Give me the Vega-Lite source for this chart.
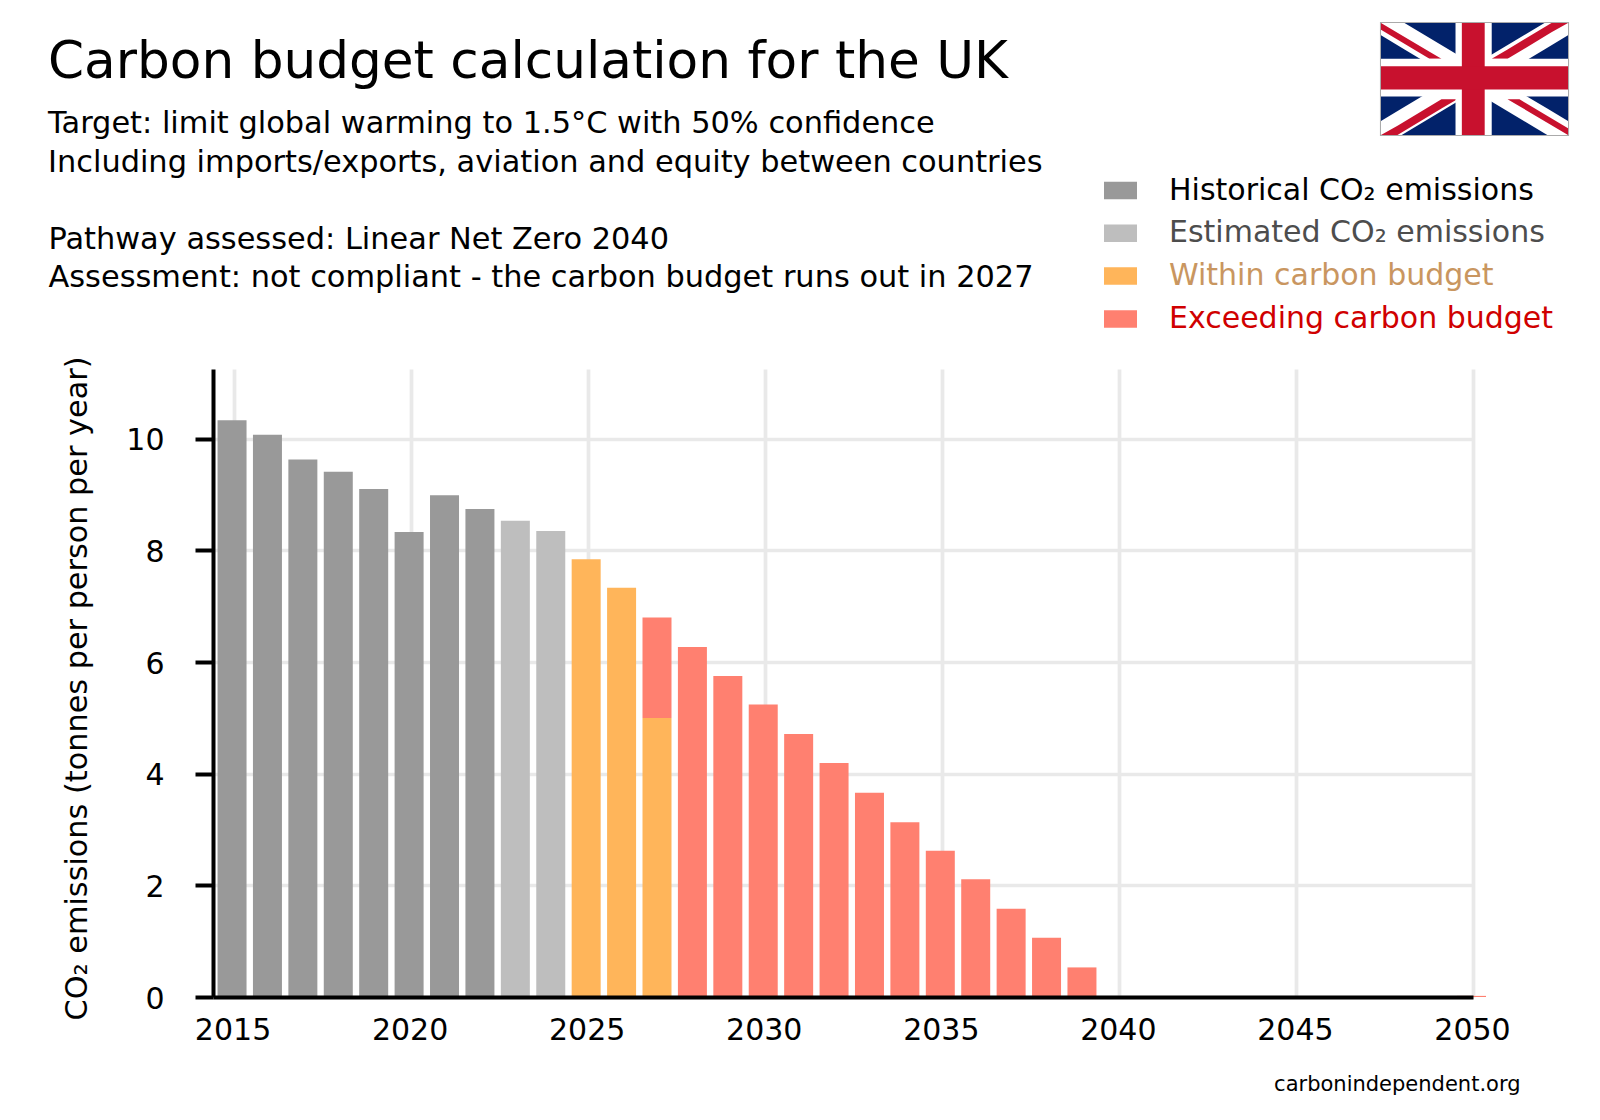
{
  "$schema": "https://vega.github.io/schema/vega-lite/v6.json",
  "autosize": {"type": "none"},
  "padding": {"left": 213, "top": 369, "right": 127, "bottom": 123},
  "width": 1260,
  "height": 628,
  "background": "white",
  "config": {"view": {"stroke": null}, "font": "DejaVu Sans"},
  "title": {
    "text": "Carbon budget calculation for the UK",
    "subtitle": [
      "Target: limit global warming to 1.5°C with 50% confidence",
      "Including imports/exports, aviation and equity between countries"
    ],
    "anchor": "start",
    "frame": "group",
    "dx": -165,
    "offset": -156.5,
    "font": "DejaVu Sans",
    "fontSize": 51.7,
    "fontWeight": "normal",
    "color": "black",
    "subtitleFont": "DejaVu Sans",
    "subtitleFontSize": 30.4,
    "subtitleColor": "black",
    "subtitleLineHeight": 38.6,
    "subtitlePadding": 21
  },
  "datasets": {
    "emissions": [
      {"year": 2015, "category": "Historical CO₂ emissions", "co2": 10.33},
      {"year": 2016, "category": "Historical CO₂ emissions", "co2": 10.07},
      {"year": 2017, "category": "Historical CO₂ emissions", "co2": 9.63},
      {"year": 2018, "category": "Historical CO₂ emissions", "co2": 9.41},
      {"year": 2019, "category": "Historical CO₂ emissions", "co2": 9.1},
      {"year": 2020, "category": "Historical CO₂ emissions", "co2": 8.33},
      {"year": 2021, "category": "Historical CO₂ emissions", "co2": 8.99},
      {"year": 2022, "category": "Historical CO₂ emissions", "co2": 8.74},
      {"year": 2023, "category": "Estimated CO₂ emissions", "co2": 8.53},
      {"year": 2024, "category": "Estimated CO₂ emissions", "co2": 8.35},
      {"year": 2025, "category": "Within carbon budget", "co2": 7.84},
      {"year": 2026, "category": "Within carbon budget", "co2": 7.33},
      {"year": 2027, "category": "Within carbon budget", "co2": 5.0},
      {"year": 2027, "category": "Exceeding carbon budget", "co2": 1.8},
      {"year": 2028, "category": "Exceeding carbon budget", "co2": 6.27},
      {"year": 2029, "category": "Exceeding carbon budget", "co2": 5.75},
      {"year": 2030, "category": "Exceeding carbon budget", "co2": 5.24},
      {"year": 2031, "category": "Exceeding carbon budget", "co2": 4.71},
      {"year": 2032, "category": "Exceeding carbon budget", "co2": 4.19},
      {"year": 2033, "category": "Exceeding carbon budget", "co2": 3.66},
      {"year": 2034, "category": "Exceeding carbon budget", "co2": 3.13},
      {"year": 2035, "category": "Exceeding carbon budget", "co2": 2.62},
      {"year": 2036, "category": "Exceeding carbon budget", "co2": 2.11},
      {"year": 2037, "category": "Exceeding carbon budget", "co2": 1.58},
      {"year": 2038, "category": "Exceeding carbon budget", "co2": 1.06},
      {"year": 2039, "category": "Exceeding carbon budget", "co2": 0.53},
      {"year": 2040, "category": "Exceeding carbon budget", "co2": 0},
      {"year": 2050, "category": "Exceeding carbon budget", "co2": 0.02}
    ],
    "flag": [
      {"part": "a edge", "tone": "edge", "fx": -3, "top": -3, "bottom": 338},
      {"part": "a edge", "tone": "edge", "fx": 535, "top": -3, "bottom": 338},
      {"part": "b field", "tone": "blue", "fx": 0, "top": 0, "bottom": 335},
      {"part": "b field", "tone": "blue", "fx": 532, "top": 0, "bottom": 335},
      {"part": "c diag1", "tone": "white", "fx": 0, "top": 0, "bottom": 37},
      {"part": "c diag1", "tone": "white", "fx": 67, "top": 0, "bottom": 79},
      {"part": "c diag1", "tone": "white", "fx": 473, "top": 256, "bottom": 335},
      {"part": "c diag1", "tone": "white", "fx": 532, "top": 293, "bottom": 335},
      {"part": "d diag2", "tone": "white", "fx": 0, "top": 293, "bottom": 335},
      {"part": "d diag2", "tone": "white", "fx": 59, "top": 256, "bottom": 335},
      {"part": "d diag2", "tone": "white", "fx": 465, "top": 0, "bottom": 79},
      {"part": "d diag2", "tone": "white", "fx": 532, "top": 0, "bottom": 37},
      {"part": "e red tl", "tone": "red", "fx": 0, "top": 0, "bottom": 20},
      {"part": "e red tl", "tone": "red", "fx": 138, "top": 86, "bottom": 107},
      {"part": "e red tl", "tone": "red", "fx": 172, "top": 107, "bottom": 107},
      {"part": "f red tr", "tone": "red", "fx": 315, "top": 107, "bottom": 107},
      {"part": "f red tr", "tone": "red", "fx": 360, "top": 79, "bottom": 107},
      {"part": "f red tr", "tone": "red", "fx": 485, "top": 0, "bottom": 28},
      {"part": "f red tr", "tone": "red", "fx": 532, "top": 0, "bottom": 0},
      {"part": "g red bl", "tone": "red", "fx": 0, "top": 335, "bottom": 335},
      {"part": "g red bl", "tone": "red", "fx": 47, "top": 307, "bottom": 335},
      {"part": "g red bl", "tone": "red", "fx": 172, "top": 228, "bottom": 256},
      {"part": "g red bl", "tone": "red", "fx": 217, "top": 228, "bottom": 228},
      {"part": "h red br", "tone": "red", "fx": 360, "top": 228, "bottom": 228},
      {"part": "h red br", "tone": "red", "fx": 394, "top": 228, "bottom": 249},
      {"part": "h red br", "tone": "red", "fx": 532, "top": 315, "bottom": 335},
      {"part": "i cross v", "tone": "white", "fx": 212, "top": 0, "bottom": 335},
      {"part": "i cross v", "tone": "white", "fx": 315, "top": 0, "bottom": 335},
      {"part": "j cross h", "tone": "white", "fx": 0, "top": 107, "bottom": 220},
      {"part": "j cross h", "tone": "white", "fx": 532, "top": 107, "bottom": 220},
      {"part": "k red v", "tone": "red", "fx": 230, "top": 0, "bottom": 335},
      {"part": "k red v", "tone": "red", "fx": 295, "top": 0, "bottom": 335},
      {"part": "l red h", "tone": "red", "fx": 0, "top": 129, "bottom": 199},
      {"part": "l red h", "tone": "red", "fx": 532, "top": 129, "bottom": 199}
    ]
  },
  "layer": [
    {
      "data": {"name": "emissions"},
      "mark": {"type": "bar", "size": 29, "opacity": 0},
      "encoding": {
        "x": {
          "field": "year",
          "type": "quantitative",
          "scale": {"domain": [2014.42, 2050], "nice": false, "zero": false, "padding": 0},
          "axis": {
            "orient": "bottom",
            "values": [2015, 2020, 2025, 2030, 2035, 2040, 2045, 2050],
            "grid": true,
            "gridColor": "#e9e9e9",
            "gridWidth": 3.7,
            "ticks": false,
            "domain": false,
            "labels": false,
            "title": null
          }
        },
        "y": {
          "field": "co2",
          "type": "quantitative",
          "stack": null,
          "scale": {"domain": [0, 11.25], "nice": false},
          "axis": {
            "orient": "left",
            "values": [0, 2, 4, 6, 8, 10],
            "grid": true,
            "gridColor": "#e9e9e9",
            "gridWidth": 3.7,
            "ticks": false,
            "domain": false,
            "labels": false,
            "title": ["Pathway assessed: Linear Net Zero 2040", "Assessment: not compliant - the carbon budget runs out in 2027"],
            "titleFont": "DejaVu Sans",
            "titleFontSize": 30.4,
            "titleFontWeight": "normal",
            "titleColor": "black",
            "titleAngle": 0,
            "titleAlign": "left",
            "titleBaseline": "alphabetic",
            "titleLineHeight": 38.6,
            "titleX": -165,
            "titleY": -121
          }
        }
      }
    },
    {
      "data": {"name": "emissions"},
      "mark": {"type": "bar", "size": 29, "xOffset": -1.5},
      "encoding": {
        "x": {
          "field": "year",
          "type": "quantitative",
          "scale": {"domain": [2014.42, 2050], "nice": false, "zero": false, "padding": 0},
          "axis": {
            "orient": "bottom",
            "values": [2015, 2020, 2025, 2030, 2035, 2040, 2045, 2050],
            "format": "d",
            "grid": false,
            "ticks": false,
            "domainColor": "black",
            "domainWidth": 4,
            "labelFont": "DejaVu Sans",
            "labelFontSize": 30,
            "labelColor": "black",
            "labelPadding": 18,
            "labelOffset": -1,
            "labelOverlap": false,
            "labelFlush": false,
            "title": "carbonindependent.org",
            "titleFont": "DejaVu Sans",
            "titleFontSize": 21,
            "titleFontWeight": "normal",
            "titleColor": "black",
            "titleAlign": "right",
            "titleBaseline": "middle",
            "titleX": 1307,
            "titleY": 87,
            "zindex": 1
          }
        },
        "y": {
          "field": "co2",
          "type": "quantitative",
          "stack": "zero",
          "scale": {"domain": [0, 11.25], "nice": false},
          "axis": {
            "orient": "left",
            "values": [0, 2, 4, 6, 8, 10],
            "grid": false,
            "tickColor": "black",
            "tickSize": 18,
            "tickWidth": 4,
            "domainColor": "black",
            "domainWidth": 4,
            "labelFont": "DejaVu Sans",
            "labelFontSize": 30,
            "labelColor": "black",
            "labelPadding": 31,
            "labelOffset": 2,
            "title": "CO₂ emissions (tonnes per person per year)",
            "titleFont": "DejaVu Sans",
            "titleFontSize": 30.3,
            "titleFontWeight": "normal",
            "titleColor": "black",
            "titleX": -136,
            "titleY": 319,
            "titleBaseline": "middle",
            "zindex": 1
          }
        },
        "order": {"field": "category", "sort": "descending"},
        "color": {
          "field": "category",
          "type": "nominal",
          "scale": {
            "domain": ["Historical CO₂ emissions", "Estimated CO₂ emissions", "Within carbon budget", "Exceeding carbon budget"],
            "range": ["#999999", "#bebebe", "#ffb55a", "#ff8070"]
          },
          "legend": {
            "orient": "none",
            "legendX": 891,
            "legendY": -195,
            "title": null,
            "symbolType": "M-1,-0.53H1V0.53H-1Z",
            "symbolSize": 1089,
            "symbolStrokeWidth": 0,
            "labelFont": "DejaVu Sans",
            "labelFontSize": 30,
            "labelOffset": 32,
            "labelLimit": 500,
            "rowPadding": 10.8,
            "labelColor": {"expr": "datum.label == 'Historical CO₂ emissions' ? 'black' : datum.label == 'Estimated CO₂ emissions' ? '#4d4d4d' : datum.label == 'Within carbon budget' ? '#c99660' : '#d00000'"}
          }
        }
      }
    },
    {
      "data": {"name": "flag"},
      "mark": {"type": "area", "interpolate": "linear"},
      "encoding": {
        "x": {
          "field": "fx",
          "type": "quantitative",
          "scale": {"domain": [0, 532], "range": [1168, 1355], "nice": false, "zero": false},
          "axis": null
        },
        "y": {
          "field": "top",
          "type": "quantitative",
          "scale": {"domain": [0, 335], "range": [-346, -234], "nice": false, "zero": false},
          "axis": null
        },
        "y2": {"field": "bottom"},
        "detail": {"field": "part"},
        "color": {
          "field": "tone",
          "type": "nominal",
          "scale": {"domain": ["edge", "blue", "white", "red"], "range": ["#aaaaaa", "#02226a", "#ffffff", "#c8112e"]},
          "legend": null
        }
      }
    }
  ],
  "resolve": {"scale": {"x": "independent", "y": "independent", "color": "independent"}}
}
